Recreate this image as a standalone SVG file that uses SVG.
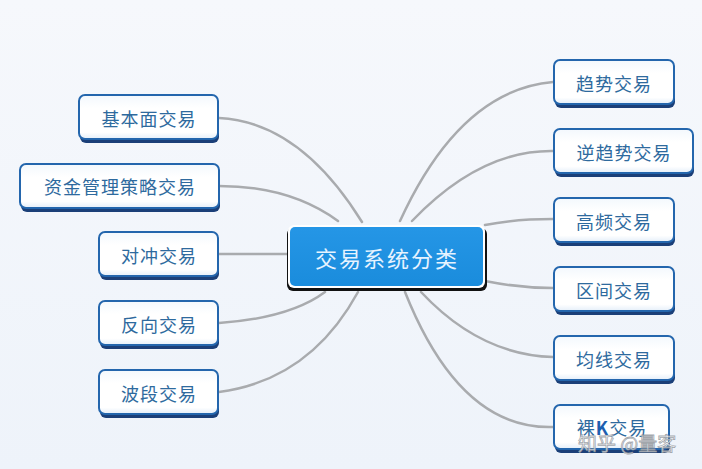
<svg xmlns="http://www.w3.org/2000/svg" width="702" height="469" viewBox="0 0 702 469">
<defs>
<linearGradient id="bg" x1="0" y1="0" x2="0" y2="1"><stop offset="0" stop-color="#f6f8fc"/><stop offset="1" stop-color="#eef3fa"/></linearGradient>
<linearGradient id="nodeFill" x1="0" y1="0" x2="0" y2="1"><stop offset="0" stop-color="#f3f8fd"/><stop offset="0.3" stop-color="#ffffff"/><stop offset="0.85" stop-color="#ffffff"/><stop offset="1" stop-color="#e4eef9"/></linearGradient>
<linearGradient id="centerFill" x1="0" y1="0" x2="0" y2="1"><stop offset="0" stop-color="#2596e6"/><stop offset="1" stop-color="#1a8cdc"/></linearGradient>
</defs>
<style>
.shadow{fill:#1b3f78}
.box{fill:url(#nodeFill);stroke:#2466ad;stroke-width:2}
.lbl{font-family:"Noto Sans CJK SC","Noto Sans",sans-serif;font-size:18px;fill:#2e6a9e;text-anchor:middle;dominant-baseline:central;letter-spacing:1px}
.link{fill:none;stroke:#a9abae;stroke-width:2.5;stroke-linecap:round}
</style>
<rect width="702" height="469" fill="url(#bg)"/>
<g id="connectors">
<path class="link" d="M219,118 Q300,122 362,222"/>
<path class="link" d="M219,186 Q290,186 338,221"/>
<path class="link" d="M219,254 L288,254"/>
<path class="link" d="M219,323 Q290,318 325,292"/>
<path class="link" d="M219,392 Q310,380 358,292"/>
<path class="link" d="M553,82 Q460,90 400,221"/>
<path class="link" d="M553,151 Q480,150 412,221"/>
<path class="link" d="M553,219 Q515,219 485,225"/>
<path class="link" d="M553,288 Q520,288 485,281"/>
<path class="link" d="M553,357 Q480,355 421,292"/>
<path class="link" d="M553,427 Q460,430 405,292"/>
</g>
<g id="center">
<rect x="287" y="228" width="200" height="63" rx="6" fill="#111"/>
<rect x="288" y="225" width="197" height="63" rx="6" fill="#ffffff"/>
<rect x="290" y="227" width="193" height="59" rx="5" fill="url(#centerFill)"/>
<text x="387" y="257" font-family="&quot;Noto Sans CJK SC&quot;,&quot;Noto Sans&quot;,sans-serif" font-size="22" fill="#e6f3ff" text-anchor="middle" dominant-baseline="central" letter-spacing="2">交易系统分类</text>
</g>
<g id="n-jbm"><rect class="shadow" x="80" y="98" width="139" height="45" rx="6"/><rect class="box" x="79" y="95" width="139" height="44" rx="6"/><text class="lbl" x="149" y="118">基本面交易</text></g>
<g id="n-zjgl"><rect class="shadow" x="21" y="167" width="199" height="45" rx="6"/><rect class="box" x="20" y="164" width="199" height="44" rx="6"/><text class="lbl" x="120" y="186">资金管理策略交易</text></g>
<g id="n-dc"><rect class="shadow" x="100" y="235" width="119" height="45" rx="6"/><rect class="box" x="99" y="232" width="119" height="44" rx="6"/><text class="lbl" x="159" y="255">对冲交易</text></g>
<g id="n-fx"><rect class="shadow" x="100" y="304" width="119" height="45" rx="6"/><rect class="box" x="99" y="301" width="119" height="44" rx="6"/><text class="lbl" x="159" y="324">反向交易</text></g>
<g id="n-bd"><rect class="shadow" x="100" y="373" width="119" height="45" rx="6"/><rect class="box" x="99" y="370" width="119" height="44" rx="6"/><text class="lbl" x="159" y="393">波段交易</text></g>
<g id="n-qs"><rect class="shadow" x="555" y="63" width="120" height="45" rx="6"/><rect class="box" x="554" y="60" width="120" height="44" rx="6"/><text class="lbl" x="614" y="83">趋势交易</text></g>
<g id="n-nqs"><rect class="shadow" x="555" y="132" width="139" height="45" rx="6"/><rect class="box" x="554" y="129" width="139" height="44" rx="6"/><text class="lbl" x="624" y="152">逆趋势交易</text></g>
<g id="n-gp"><rect class="shadow" x="555" y="201" width="120" height="45" rx="6"/><rect class="box" x="554" y="198" width="120" height="44" rx="6"/><text class="lbl" x="614" y="221">高频交易</text></g>
<g id="n-qj"><rect class="shadow" x="555" y="270" width="120" height="45" rx="6"/><rect class="box" x="554" y="267" width="120" height="44" rx="6"/><text class="lbl" x="614" y="290">区间交易</text></g>
<g id="n-jx"><rect class="shadow" x="555" y="339" width="120" height="45" rx="6"/><rect class="box" x="554" y="336" width="120" height="44" rx="6"/><text class="lbl" x="614" y="359">均线交易</text></g>
<g id="n-lk"><rect class="shadow" x="555" y="408" width="115" height="45" rx="6"/><rect class="box" x="554" y="405" width="115" height="44" rx="6"/><text class="lbl" x="612" y="427">裸<tspan fill="#1d5fb0" font-weight="bold">K</tspan>交易</text></g>
<text x="578" y="442" font-family="&quot;Noto Sans CJK SC&quot;,sans-serif" font-size="19" fill="#ffffff" fill-opacity="0.8" stroke="#8a8f96" stroke-width="0.8" stroke-opacity="0.8" dominant-baseline="central">知乎 @量客</text>
</svg>
